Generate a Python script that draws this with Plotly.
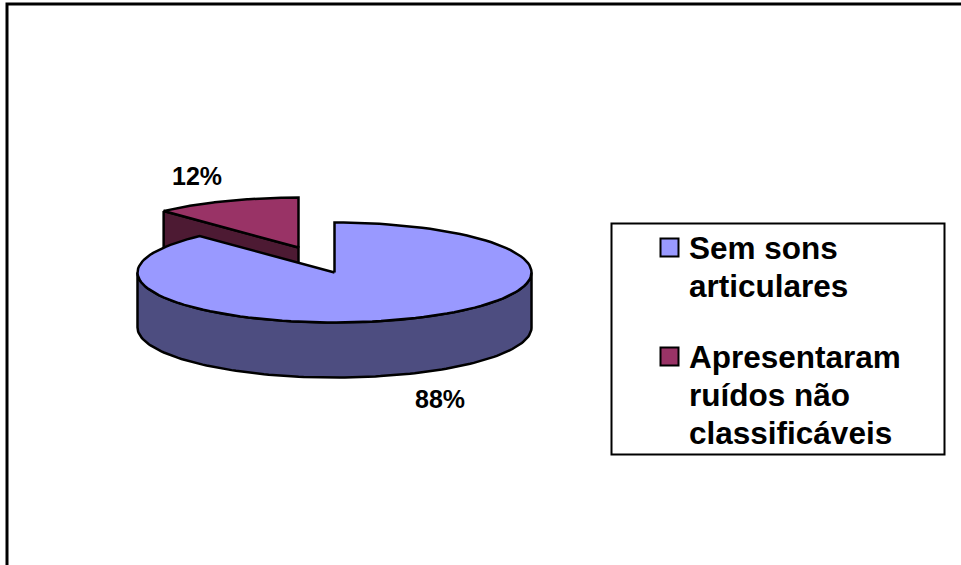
import math
import plotly.graph_objects as go

# Chart data
categories = [["Sem sons", "articulares"], ["Apresentaram", "ruídos não", "classificáveis"]]
shares = [88, 12]

# Pixel-like drawing space and 3D pie geometry
WIDTH, HEIGHT = 961, 565
CX, CY = 334.5, 272.5
RX, RY = 197.0, 50.0
DEPTH = 55.0
EXPLODE_DX, EXPLODE_DY = -36.0, -25.0

# Key layout: first-line centre of each entry, line pitch, text and swatch columns
KEY_ROWS = [247.5, 356.5]
KEY_PITCH = 38.0
KEY_TEXT_X = 687.0
KEY_SWATCH_X = 669.5

BLUE, BLUE_DARK = "#9999FF", "#4D4D80"
MAROON, MAROON_DARK = "#993366", "#4D1A33"
FONT = "Liberation Sans"


def rim(theta_deg, cx=CX, cy=CY, drop=0.0):
    """Point on the pie rim; angle runs clockwise from twelve o'clock."""
    t = math.radians(theta_deg)
    return cx + RX * math.sin(t), cy - RY * math.cos(t) + drop


def arc(start, end, cx=CX, cy=CY, drop=0.0, steps=120):
    pts = [rim(start + (end - start) * i / steps, cx, cy, drop) for i in range(steps + 1)]
    return [p[0] for p in pts], [p[1] for p in pts]


def polygon(xs, ys, fill):
    return go.Scatter(
        x=xs + xs[:1], y=ys + ys[:1], mode="lines", fill="toself", fillcolor=fill,
        line=dict(color="black", width=2.5), hoverinfo="skip", showlegend=False,
    )


split = shares[0] / sum(shares) * 360.0
mx, my = CX + EXPLODE_DX, CY + EXPLODE_DY

fig = go.Figure()

# Exploded minority slice: cut face first, then its top
ex, ey = rim(split, mx, my)
fig.add_trace(polygon([ex, mx, mx, ex], [ey, my, my + DEPTH, ey + DEPTH], MAROON_DARK))
ax, ay = arc(split, 360.0, mx, my)
fig.add_trace(polygon([mx] + ax, [my] + ay, MAROON))

# Majority slice: front wall, then its top
tx, ty = arc(90.0, 270.0)
bx, by = arc(270.0, 90.0, drop=DEPTH)
fig.add_trace(polygon(tx + bx, ty + by, BLUE_DARK))
ax, ay = arc(0.0, split)
fig.add_trace(polygon([CX] + ax, [CY] + ay, BLUE))

# Key swatches
fig.add_trace(go.Scatter(
    x=[KEY_SWATCH_X] * len(KEY_ROWS), y=KEY_ROWS, mode="markers", showlegend=False,
    hoverinfo="skip", cliponaxis=False,
    marker=dict(symbol="square", size=18, color=[BLUE, MAROON],
                line=dict(color="black", width=2)),
))

# Key text, one annotation per wrapped line
annotations = []
for row, lines in zip(KEY_ROWS, categories):
    for j, line in enumerate(lines):
        annotations.append(dict(
            x=KEY_TEXT_X, y=row + j * KEY_PITCH, text=line, showarrow=False,
            xanchor="left", yanchor="middle",
            font=dict(family=FONT, size=31.5, color="black", weight="bold"),
        ))

# Percentage labels
annotations += [
    dict(x=197, y=176, text=f"{shares[1]}%", showarrow=False,
         font=dict(family=FONT, size=25, color="black", weight="bold")),
    dict(x=440, y=398.5, text=f"{shares[0]}%", showarrow=False,
         font=dict(family=FONT, size=25, color="black", weight="bold")),
]

fig.update_layout(
    width=WIDTH, height=HEIGHT,
    margin=dict(l=0, r=0, t=0, b=0),
    paper_bgcolor="white", plot_bgcolor="white",
    xaxis=dict(range=[0, WIDTH], visible=False, fixedrange=True),
    yaxis=dict(range=[HEIGHT, 0], visible=False, fixedrange=True),
    showlegend=False,
    shapes=[
        # Outer chart frame, running off the right and bottom edges
        dict(type="rect", x0=7, y0=4, x1=WIDTH + 20, y1=HEIGHT + 20,
             line=dict(color="black", width=3), layer="below"),
        # Key frame
        dict(type="rect", x0=611.5, y0=223.5, x1=944.5, y1=454.5,
             line=dict(color="black", width=2), fillcolor="white", layer="below"),
    ],
    annotations=annotations,
)

fig.write_html("out.html")
